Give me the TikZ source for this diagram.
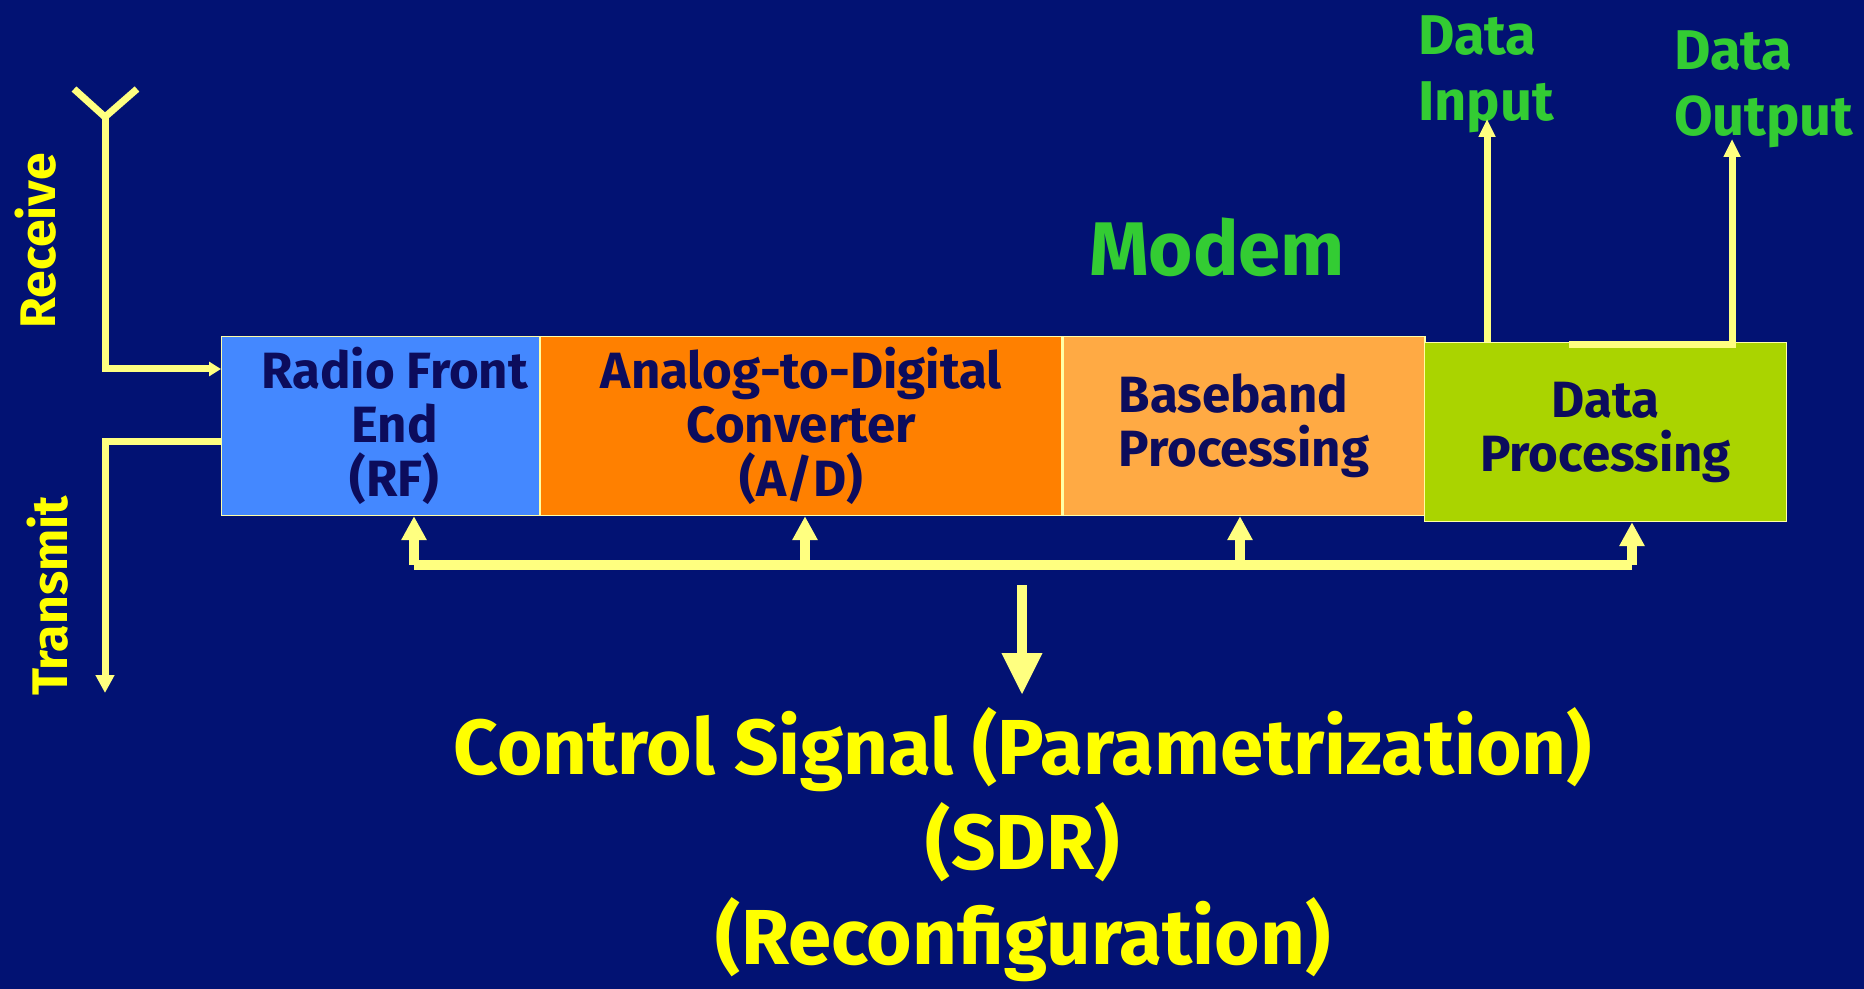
\documentclass[tikz,border=0pt]{standalone}
\usepackage{fontspec}
\setmainfont{Fira Sans}
\usetikzlibrary{arrows.meta,positioning}
\definecolor{bgnavy}{RGB}{2,18,115}
\definecolor{wire}{RGB}{255,255,128}
\definecolor{sigyellow}{RGB}{255,255,0}
\definecolor{modemgreen}{RGB}{51,204,51}
\definecolor{rfblue}{RGB}{68,136,255}
\definecolor{adorange}{RGB}{255,128,0}
\definecolor{bbpeach}{RGB}{255,170,68}
\definecolor{dplime}{RGB}{170,212,0}
\definecolor{inknavy}{RGB}{12,12,92}
\begin{document}
\begin{tikzpicture}[x=0.5pt, y=-0.5pt,
        blk/.style={draw=wire!70, line width=0.6pt, text=inknavy, align=center,
            font=\fontsize{25.5}{27}\selectfont\bfseries,
            anchor=north west, minimum height=89.5pt, inner sep=0pt},
        wireline/.style={draw=wire, line width=3.5pt},
        busline/.style={draw=wire, line width=5pt},
        greentext/.style={text=modemgreen, align=left,
            font=\fontsize{28}{33}\selectfont\bfseries},
        sidetext/.style={text=sigyellow, rotate=90,
            font=\fontsize{25}{27}\selectfont\bfseries}
    ]
                \fill [bgnavy] (0,0) rectangle (1864,989);
                \useasboundingbox (0,0) rectangle (1864,989);

                % the four stages
                \node [blk, fill=rfblue, minimum width=159pt] (rf) at (221,336) {\hspace*{14pt}Radio Front\\\hspace*{14pt}End\\\hspace*{14pt}(RF)};
                \node [blk, fill=adorange, minimum width=260.5pt] (adc) at (rf.north east) {Analog-to-Digital\\Converter\\(A/D)};
                \node [blk, fill=bbpeach, minimum width=181pt, align=left] (bb) at (adc.north east) {Baseband\\Processing};
                \node [blk, fill=dplime, minimum width=181pt] (dp) at (1424,342) {Data\\Processing};

                % antenna, receive and transmit paths
                \coordinate (ant) at (105,117);
                \coordinate (rxin) at (221,369);
                \coordinate (txout) at (221,442);
                \coordinate (txend) at (105,693);
                \draw [wireline, line join=round] (74,89) -- (ant) -- (137,89);
                \draw [wireline, -{Triangle[length=6pt,width=7pt]}] (ant) |- (rxin);
                \draw [wireline, -{Triangle[length=9pt,width=9pt]}] (txout) -| (txend);
                \node [sidetext] (rxlab) at (36,241) {Receive};
                \node [sidetext] (txlab) at (48,596) {Transmit};

                \node [text=modemgreen, font=\fontsize{38}{42}\selectfont\bfseries] (modem) at (1217,247) {Modem};

                % data in / out
                \node [greentext, anchor=west] (din) at (1411,74) {Data\\Input};
                \node [greentext, anchor=west] (dout) at (1667,89) {Data\\Output};
                \coordinate (intop) at (1487,119);
                \coordinate (outtop) at (1732,139);
                \coordinate (outfoot) at (1569,345);
                \draw [wireline, -{Triangle[length=9pt,width=8pt]}] (intop |- dp.north) -- (intop);
                \draw [wireline, -{Triangle[length=9pt,width=8pt]}] (outfoot) -| (outtop);

                % control bus
                \coordinate (taprf) at (414,565);
                \coordinate (tapad) at (805,565);
                \coordinate (tapbb) at (1240,565);
                \coordinate (tapdp) at (1632,565);
                \draw [busline] (taprf) -- (tapdp);
                \foreach \t/\b in {taprf/rf, tapad/adc, tapbb/bb, tapdp/dp}
                    \draw [busline, -{Triangle[length=12pt,width=12pt]}] (\t) -- (\t |- \b.south);

                \node [text=sigyellow, align=center, font=\fontsize{39}{47.5}\selectfont\bfseries] (ctrl) at (1023,845)
                    {Control Signal (Parametrization)\\(SDR)\\(Reconfiguration)};
                \coordinate (drop) at (1022,585);
                \coordinate (dropend) at (1022,695);
                \draw [busline, -{Triangle[length=21pt,width=19pt]}] (drop) -- (dropend);
            \end{tikzpicture}
\end{document}
